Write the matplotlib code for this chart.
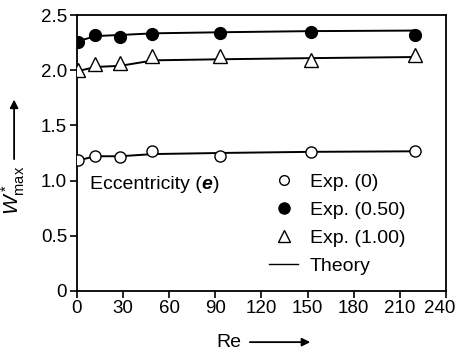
import matplotlib
matplotlib.use("Agg")
import matplotlib.pyplot as plt
from matplotlib.lines import Line2D
from matplotlib.patches import FancyArrowPatch
from matplotlib.transforms import ScaledTranslation

plt.rcParams['font.family'] = ['Liberation Sans', 'DejaVu Sans']
plt.rcParams['mathtext.fontset'] = 'custom'
plt.rcParams['mathtext.rm'] = 'Liberation Sans'
plt.rcParams['mathtext.it'] = 'Liberation Sans:italic'

re_exp = [1, 12, 28, 49, 93, 152, 220]
w_e0 = [1.19, 1.22, 1.21, 1.27, 1.22, 1.26, 1.27]
w_e050 = [2.26, 2.32, 2.30, 2.33, 2.34, 2.35, 2.32]
w_e100 = [2.00, 2.06, 2.07, 2.13, 2.13, 2.09, 2.14]

re_th = [0, 12, 28, 50, 95, 152, 220]
th_e0 = [1.18, 1.22, 1.22, 1.24, 1.25, 1.26, 1.265]
th_e050 = [2.26, 2.31, 2.32, 2.335, 2.345, 2.355, 2.36]
th_e100 = [1.99, 2.03, 2.04, 2.09, 2.10, 2.11, 2.12]

xticks = [0, 30, 60, 90, 120, 150, 180, 210, 240]
yticks = [0, 0.5, 1.0, 1.5, 2.0, 2.5]
yticklabels = ['0', '0.5', '1.0', '1.5', '2.0', '2.5']

fig = plt.figure(figsize=(4.55, 3.52), dpi=100)
ax = fig.add_axes([0.169, 0.174, 0.811, 0.783])

for th in (th_e0, th_e050, th_e100):
    ax.plot(re_th, th, color='black', lw=1.4, zorder=2)
ax.plot(re_exp, w_e0, 'o', ms=8, mfc='white', mec='black', mew=1.0, zorder=3)
ax.plot(re_exp, w_e050, 'o', ms=8.5, mfc='black', mec='black', zorder=3)
ax.plot(re_exp, w_e100, '^', ms=10, mfc='white', mec='black', mew=1.0, zorder=3)

ax.set_xlim(0, 240)
ax.set_ylim(0, 2.5)
ax.set_xticks(xticks)
ax.set_yticks(yticks)
ax.set_yticklabels(yticklabels)
ax.tick_params(direction='out', length=5, width=1.2, labelsize=13.5, pad=2)
for s in ax.spines.values():
    s.set_linewidth(1.3)
last = ax.get_xticklabels()[-1]
last.set_transform(last.get_transform() + ScaledTranslation(-6/100, 0, fig.dpi_scale_trans))

handles = [
    Line2D([], [], ls='none', marker='o', ms=7, mfc='white', mec='black'),
    Line2D([], [], ls='none', marker='o', ms=8, mfc='black', mec='black'),
    Line2D([], [], ls='none', marker='^', ms=9, mfc='white', mec='black'),
    Line2D([], [], color='black', lw=1.0),
]
labels = ['Exp. (0)', 'Exp. (0.50)', 'Exp. (1.00)', 'Theory']
leg = ax.legend(handles, labels, loc='upper left', bbox_to_anchor=(0.5, 0.455),
                frameon=False, fontsize=14, handlelength=1.5, handletextpad=0.6,
                labelspacing=0.54, borderaxespad=0)

# "Eccentricity (e)" with bold-italic e
t1 = ax.text(0.035, 0.385, 'Eccentricity (', transform=ax.transAxes,
             fontsize=14, va='center', ha='left')
fig.canvas.draw()
r = fig.canvas.get_renderer()
bb = t1.get_window_extent(r)
inv = ax.transAxes.inverted()
x1 = inv.transform((bb.x1, bb.y0))[0]
t2 = ax.text(x1, 0.385, 'e', transform=ax.transAxes, fontsize=14,
             va='center', ha='left', fontweight='bold', fontstyle='italic')
bb2 = t2.get_window_extent(r)
x2 = inv.transform((bb2.x1, bb2.y0))[0]
ax.text(x2, 0.385, ')', transform=ax.transAxes, fontsize=14,
        va='center', ha='left')

fig.text(0.030, 0.46, r'$W^*_{\rm max}$', rotation=90, fontsize=15,
         va='center', ha='center')
fig.add_artist(FancyArrowPatch(
    (0.031, 0.54), (0.031, 0.725), transform=fig.transFigure,
    arrowstyle='-|>', mutation_scale=12, color='black', lw=1.3))
fig.text(0.503, 0.028, 'Re', fontsize=14, va='center', ha='center')
fig.add_artist(FancyArrowPatch(
    (0.543, 0.028), (0.688, 0.028), transform=fig.transFigure,
    arrowstyle='-|>', mutation_scale=12, color='black', lw=1.3))

fig.savefig('out.png', dpi=100)
